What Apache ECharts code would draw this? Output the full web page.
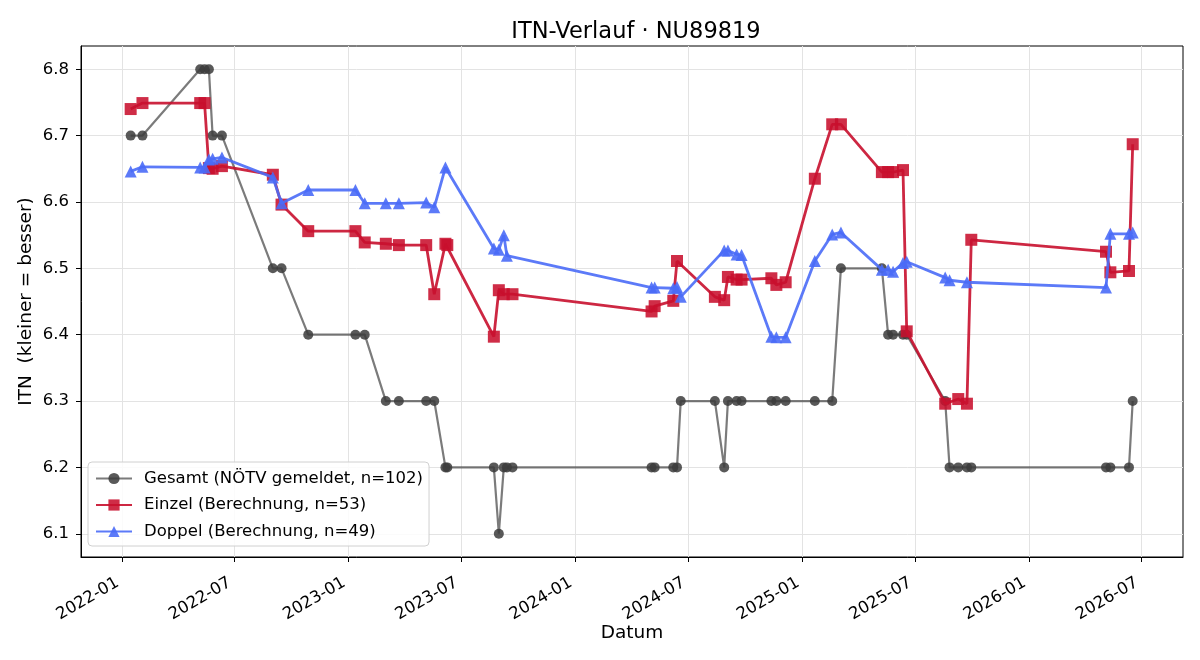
<!DOCTYPE html>
<html>
<head>
<meta charset="utf-8">
<title>ITN-Verlauf</title>
<script src="https://cdn.jsdelivr.net/npm/echarts@6/dist/echarts.min.js"></script>
<style>
	html, body { margin: 0; padding: 0; background: #fff; }
	#chart { width: 1200px; height: 660px; }
</style>
</head>
<body>
<div id="chart"></div>
<script>
// Gesamt (NÖTV gemeldet)
var gesamtDates = ['2022-01-15', '2022-02-03', '2022-05-07', '2022-05-14', '2022-05-21', '2022-05-27', '2022-06-11',
	'2022-09-01', '2022-09-15', '2022-10-28', '2023-01-12', '2023-01-27', '2023-03-02', '2023-03-23', '2023-05-06',
	'2023-05-19', '2023-06-06', '2023-06-09', '2023-08-23', '2023-08-31', '2023-09-08', '2023-09-13', '2023-09-22',
	'2024-05-03', '2024-05-08', '2024-06-07', '2024-06-13', '2024-06-19', '2024-08-13', '2024-08-28', '2024-09-03',
	'2024-09-17', '2024-09-25', '2024-11-12', '2024-11-20', '2024-12-05', '2025-01-21', '2025-02-18', '2025-03-04',
	'2025-05-09', '2025-05-19', '2025-05-27', '2025-06-12', '2025-06-18', '2025-08-19', '2025-08-26', '2025-09-09',
	'2025-09-23', '2025-09-30', '2026-05-05', '2026-05-12', '2026-06-11', '2026-06-17'];
var gesamtValues = [6.7, 6.7, 6.8, 6.8, 6.8, 6.7, 6.7,
	6.5, 6.5, 6.4, 6.4, 6.4, 6.3, 6.3, 6.3,
	6.3, 6.2, 6.2, 6.2, 6.1, 6.2, 6.2, 6.2,
	6.2, 6.2, 6.2, 6.2, 6.3, 6.3, 6.2, 6.3,
	6.3, 6.3, 6.3, 6.3, 6.3, 6.3, 6.3, 6.5,
	6.5, 6.4, 6.4, 6.4, 6.4, 6.3, 6.2, 6.2,
	6.2, 6.2, 6.2, 6.2, 6.2, 6.3];

// Einzel (Berechnung)
var einzelDates = ['2022-01-15', '2022-02-03', '2022-05-07', '2022-05-14', '2022-05-21', '2022-05-27', '2022-06-11',
	'2022-09-01', '2022-09-15', '2022-10-28', '2023-01-12', '2023-01-27', '2023-03-02', '2023-03-23', '2023-05-06',
	'2023-05-19', '2023-06-06', '2023-06-09', '2023-08-23', '2023-08-31', '2023-09-08', '2023-09-22',
	'2024-05-03', '2024-05-08', '2024-06-07', '2024-06-13', '2024-08-13', '2024-08-28', '2024-09-03',
	'2024-09-17', '2024-09-25', '2024-11-12', '2024-11-20', '2024-12-05', '2025-01-21', '2025-02-18', '2025-03-04',
	'2025-05-09', '2025-05-19', '2025-05-27', '2025-06-12', '2025-06-18', '2025-08-19', '2025-09-09',
	'2025-09-23', '2025-09-30', '2026-05-05', '2026-05-12', '2026-06-11', '2026-06-17'];
var einzelValues = [6.740, 6.749, 6.749, 6.749, 6.651, 6.650, 6.654,
	6.641, 6.596, 6.556, 6.556, 6.539, 6.537, 6.535, 6.535,
	6.461, 6.537, 6.535, 6.397, 6.467, 6.461, 6.461,
	6.435, 6.443, 6.451, 6.511, 6.457, 6.452, 6.487,
	6.483, 6.483, 6.485, 6.475, 6.479, 6.635, 6.717, 6.717,
	6.645, 6.645, 6.645, 6.648, 6.405, 6.296, 6.303,
	6.296, 6.543, 6.525, 6.494, 6.496, 6.687];

// Doppel (Berechnung)
var doppelDates = ['2022-01-15', '2022-02-03', '2022-05-07', '2022-05-14', '2022-05-21', '2022-05-27', '2022-06-11',
	'2022-09-01', '2022-09-15', '2022-10-28', '2023-01-12', '2023-01-27', '2023-03-02', '2023-03-23', '2023-05-06',
	'2023-05-19', '2023-06-06', '2023-08-23', '2023-08-31', '2023-09-08', '2023-09-13',
	'2024-05-03', '2024-05-08', '2024-06-07', '2024-06-13', '2024-06-19', '2024-08-28', '2024-09-03', '2024-09-17', '2024-09-25',
	'2024-11-12', '2024-11-20', '2024-12-05', '2025-01-21', '2025-02-18', '2025-03-04',
	'2025-05-09', '2025-05-19', '2025-05-27', '2025-06-12', '2025-06-18', '2025-08-19', '2025-08-26',
	'2025-09-23', '2026-05-05', '2026-05-12', '2026-06-11', '2026-06-17'];
var doppelValues = [6.646, 6.653, 6.652, 6.652, 6.664, 6.665, 6.667,
	6.637, 6.598, 6.618, 6.618, 6.598, 6.598, 6.598, 6.599,
	6.592, 6.652, 6.530, 6.528, 6.550, 6.519,
	6.471, 6.471, 6.470, 6.472, 6.457, 6.527, 6.527, 6.521, 6.520,
	6.397, 6.396, 6.396, 6.511, 6.551, 6.554,
	6.498, 6.498, 6.495, 6.508, 6.510, 6.486, 6.482,
	6.479, 6.471, 6.552, 6.552, 6.554];

var seriesNames = ['Gesamt (NÖTV gemeldet, n=102)', 'Einzel (Berechnung, n=53)', 'Doppel (Berechnung, n=49)'];
var xTickLabels = ['2022-01', '2022-07', '2023-01', '2023-07', '2024-01', '2024-07', '2025-01', '2025-07', '2026-01', '2026-07'];
var yTickLabels = [6.1, 6.2, 6.3, 6.4, 6.5, 6.6, 6.7, 6.8];

function toTime(s) {
	var p = s.split('-');
	return Date.UTC(+p[0], +p[1] - 1, +(p[2] || 1));
}

function pairs(dates, values) {
	var out = [];
	for (var i = 0; i < dates.length; i++) {
		out.push([toTime(dates[i]), values[i]]);
	}
	return out;
}

// x axis is a plain value axis in ms, labels are formatted as YYYY-MM
var xTicks = xTickLabels.map(function(s) { return toTime(s); });

var myChart = echarts.init(document.getElementById('chart'));
var option = {
	animation : false,
	textStyle : { fontFamily : 'DejaVu Sans' },
	title : {
		text : 'ITN-Verlauf · NU89819',
		left : 631,
		top : 16,
		textAlign : 'center',
		textStyle : { fontSize : 22.5, fontWeight : 'normal', color : '#000' }
	},
	grid : {
		left : 81,
		right : 17,
		top : 46,
		bottom : 103,
		show : true,
		borderColor : '#000',
		borderWidth : 1,
		backgroundColor : 'transparent'
	},
	legend : {
		orient : 'vertical',
		left : 88,
		top : 462,
		padding : [8, 6, 6, 7],
		itemGap : 9.5,
		itemWidth : 36,
		itemHeight : 14,
		backgroundColor : 'rgba(255,255,255,0.85)',
		borderColor : '#d0d0d0',
		borderWidth : 1,
		borderRadius : 4,
		textStyle : { fontSize : 16.5, color : '#000', padding : [0, 0, 0, 7] },
		data : seriesNames
	},
	xAxis : {
		type : 'value',
		min : toTime('2021-10-27'),
		max : toTime('2026-09-06'),
		name : 'Datum',
		nameLocation : 'middle',
		nameGap : 67,
		nameMoveOverlap : false,
		nameTextStyle : { fontSize : 18.5, color : '#000' },
		axisLine : { show : true, onZero : false, lineStyle : { color : '#000' } },
		axisTick : { show : true, length : 5, lineStyle : { color : '#000' }, customValues : xTicks },
		axisLabel : {
			rotate : 30,
			fontSize : 16.5,
			color : '#000',
			margin : 22,
			padding : [0, 5, 0, 0],
			customValues : xTicks,
			formatter : function(v) {
				var d = new Date(v);
				var m = d.getUTCMonth() + 1;
				return d.getUTCFullYear() + '-' + (m < 10 ? '0' + m : m);
			}
		},
		splitLine : { show : true, lineStyle : { color : '#e3e3e3', width : 1 } }
	},
	yAxis : {
		type : 'value',
		min : 6.065,
		max : 6.835,
		name : 'ITN  (kleiner = besser)',
		nameLocation : 'middle',
		nameGap : 45,
		nameMoveOverlap : false,
		nameTextStyle : { fontSize : 18.5, color : '#000' },
		axisLine : { show : true, onZero : false, lineStyle : { color : '#000' } },
		axisTick : { show : true, length : 5, lineStyle : { color : '#000' }, customValues : yTickLabels },
		axisLabel : {
			fontSize : 16.5,
			color : '#000',
			margin : 12,
			customValues : yTickLabels,
			formatter : function(v) { return v.toFixed(1); }
		},
		splitLine : { show : true, lineStyle : { color : '#e3e3e3', width : 1 } }
	},
	series : [ {
		name : seriesNames[0],
		type : 'line',
		data : pairs(gesamtDates, gesamtValues),
		symbol : 'circle',
		symbolSize : 10,
		showAllSymbol : true,
		color : '#3c3c3c',
		lineStyle : { width : 2.2, color : 'rgba(60,60,60,0.68)' },
		itemStyle : { color : 'rgba(60,60,60,0.85)' },
		z : 2
	}, {
		name : seriesNames[1],
		type : 'line',
		data : pairs(einzelDates, einzelValues),
		symbol : 'rect',
		symbolSize : 12,
		showAllSymbol : true,
		color : '#c8102e',
		lineStyle : { width : 2.8, color : 'rgba(200,16,46,0.9)' },
		itemStyle : { color : 'rgba(200,16,46,0.88)' },
		z : 3
	}, {
		name : seriesNames[2],
		type : 'line',
		data : pairs(doppelDates, doppelValues),
		symbol : 'triangle',
		symbolSize : 12,
		showAllSymbol : true,
		color : '#4a6cf7',
		lineStyle : { width : 2.8, color : 'rgba(74,108,247,0.9)' },
		itemStyle : { color : 'rgba(74,108,247,0.9)' },
		z : 4
	} ]
};
myChart.setOption(option);
</script>
</body>
</html>
